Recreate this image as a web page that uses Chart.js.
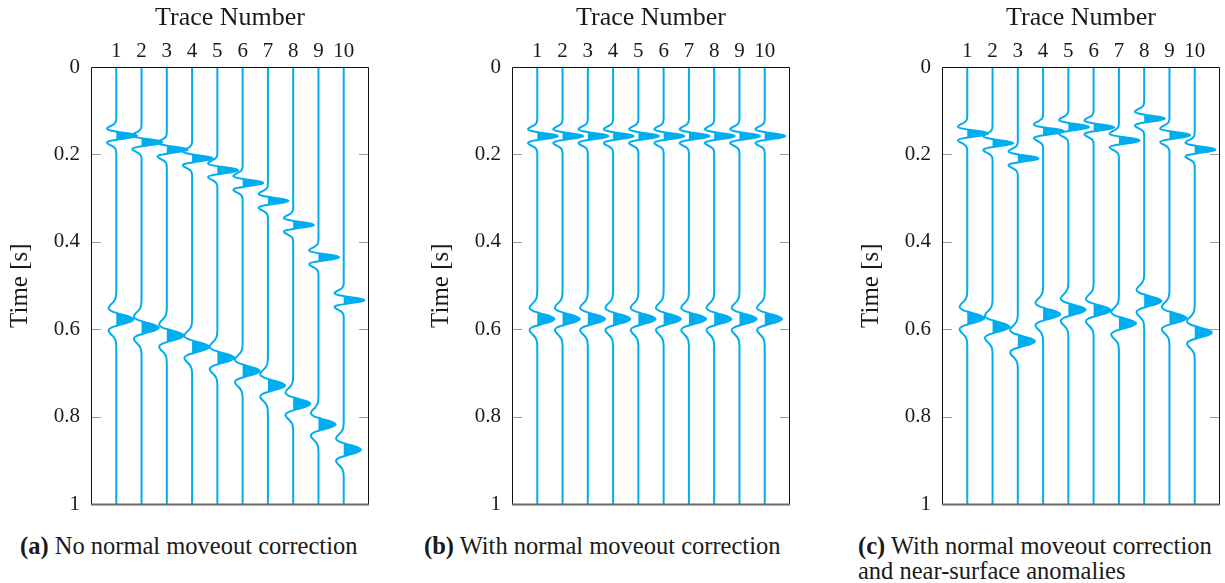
<!DOCTYPE html>
<html>
<head>
<meta charset="utf-8">
<title>Seismic gathers</title>
<script src="https://cdn.jsdelivr.net/npm/chart.js@4.4.1/dist/chart.umd.min.js"></script>
<style>
  body { margin: 0; background: #fff; width: 1225px; height: 583px; position: relative; overflow: hidden; font-family: "Liberation Serif", serif; color: #1a1a1a; }
  .panel { position: absolute; top: 0; }
  .cap { position: absolute; font-size: 24.5px; line-height: 25px; white-space: nowrap; }
</style>
</head>
<body>
<div class="panel" style="left:0px"><canvas id="gatherA" width="373" height="528"></canvas></div>
<div class="panel" style="left:421px"><canvas id="gatherB" width="373" height="528"></canvas></div>
<div class="panel" style="left:851px"><canvas id="gatherC" width="373" height="528"></canvas></div>

<div class="cap" style="left:20px; top:533px"><b>(a)</b> No normal moveout correction</div>
<div class="cap" style="left:424px; top:533px"><b>(b)</b> With normal moveout correction</div>
<div class="cap" style="left:858px; top:533px"><b>(c)</b> With normal moveout correction<br>and near-surface anomalies</div>

<script>
// trace numbers and time ticks
const traceNumbers = [1, 2, 3, 4, 5, 6, 7, 8, 9, 10];
const timeTicks = [0, 0.2, 0.4, 0.6, 0.8, 1];

// arrival times (s) of the two reflections on each trace
const rawFirst  = [0.157, 0.172, 0.189, 0.209, 0.236, 0.265, 0.306, 0.361, 0.435, 0.533];
const rawSecond = [0.577, 0.596, 0.614, 0.640, 0.665, 0.695, 0.728, 0.770, 0.817, 0.875];

const nmoFirst  = [0.158, 0.158, 0.158, 0.158, 0.158, 0.158, 0.158, 0.158, 0.158, 0.158];
const nmoSecond = [0.576, 0.576, 0.576, 0.576, 0.576, 0.576, 0.576, 0.576, 0.576, 0.576];

const staticFirst  = [0.152, 0.174, 0.209, 0.147, 0.137, 0.138, 0.168, 0.118, 0.156, 0.189];
const staticSecond = [0.574, 0.594, 0.627, 0.565, 0.555, 0.556, 0.586, 0.535, 0.574, 0.607];

// wavelet samples (normalised), peak in the middle
const waveletShape = [0, -0.01, -0.03, -0.09, -0.21, -0.37, -0.45, -0.28, 0.19, 0.75, 1,
                      0.75, 0.19, -0.28, -0.45, -0.37, -0.21, -0.09, -0.03, -0.01, 0];
// peak amplitude (in trace spacings) and sample interval (s) for each reflection
const reflectorGain = [0.82, 0.68];
const reflectorStep = [0.0039, 0.0063];

const cyan = 'rgb(0,174,239)';

function tracePoints(k, arrivals) {
  const mid = (waveletShape.length - 1) / 2;
  const pts = [{x: k, y: 0, a: 0}];
  arrivals.forEach((t0, r) => {
    waveletShape.forEach((w, i) => {
      const a = w * reflectorGain[r];
      pts.push({x: k + a, y: t0 + (i - mid) * reflectorStep[r], a: a});
    });
  });
  pts.push({x: k, y: 1, a: 0});
  return pts;
}

function buildDatasets(first, second) {
  const sets = [];
  traceNumbers.forEach((k, j) => {
    const pts = tracePoints(k, [first[j], second[j]]);
    sets.push({
      data: pts.map(p => ({x: p.x, y: p.y})),
      borderColor: cyan,
      borderWidth: 2,
      pointRadius: 0,
      cubicInterpolationMode: 'monotone',
      fill: false
    });
    // positive lobes, filled
    sets.push({
      data: pts.map(p => ({x: k + Math.max(0, p.a), y: p.y})),
      borderWidth: 0,
      borderColor: 'transparent',
      backgroundColor: cyan,
      pointRadius: 0,
      cubicInterpolationMode: 'monotone',
      fill: 'shape'
    });
  });
  return sets;
}

// box, with short inner ticks on both sides
const frame = {
  id: 'frame',
  afterDatasetsDraw(chart) {
    const {ctx, chartArea: {left, right, top, bottom}, scales: {y}} = chart;
    ctx.save();
    ctx.strokeStyle = '#9a9a9a';
    ctx.lineWidth = 1;
    timeTicks.forEach(v => {
      if (v === 0 || v === 1) return;
      const py = Math.round(y.getPixelForValue(v)) + 0.5;
      ctx.beginPath();
      ctx.moveTo(left, py); ctx.lineTo(left + 10, py);
      ctx.moveTo(right, py); ctx.lineTo(right - 10, py);
      ctx.stroke();
    });
    ctx.strokeStyle = '#111';
    ctx.beginPath();
    ctx.moveTo(left + 0.5, bottom);
    ctx.lineTo(left + 0.5, top + 0.5);
    ctx.lineTo(right - 0.5, top + 0.5);
    ctx.lineTo(right - 0.5, bottom);
    ctx.stroke();
    ctx.strokeStyle = '#6b6b6b';
    ctx.lineWidth = 2;
    ctx.beginPath();
    ctx.moveTo(left, bottom); ctx.lineTo(right, bottom);
    ctx.stroke();
    ctx.restore();
  }
};

const serif = '"Liberation Serif", serif';

function drawGather(id, first, second) {
  new Chart(document.getElementById(id), {
    type: 'line',
    data: { datasets: buildDatasets(first, second) },
    options: {
      responsive: false,
      animation: false,
      indexAxis: 'y',
      layout: { padding: { left: 0, right: 4, top: 0, bottom: 5 } },
      plugins: { legend: { display: false }, tooltip: { enabled: false } },
      events: [],
      scales: {
        x: {
          type: 'linear',
          position: 'top',
          min: 0,
          max: 11,
          grid: { display: false, drawTicks: false },
          border: { display: false },
          afterBuildTicks: s => { s.ticks = traceNumbers.map(v => ({value: v})); },
          afterFit: s => { s.height = 67; },
          ticks: { padding: 3, color: '#1a1a1a', font: { family: serif, size: 21 } },
          title: { display: true, text: 'Trace Number', color: '#1a1a1a',
                   padding: { top: 3, bottom: 0 }, font: { family: serif, size: 26 } }
        },
        y: {
          type: 'linear',
          reverse: true,
          min: 0,
          max: 1,
          grid: { display: false, drawTicks: false },
          border: { display: false },
          afterBuildTicks: s => { s.ticks = timeTicks.map(v => ({value: v})); },
          afterFit: s => { s.width = 91; },
          ticks: { padding: 11, color: '#1a1a1a', font: { family: serif, size: 21 },
                   callback: v => String(v) },
          title: { display: true, text: 'Time [s]', color: '#1a1a1a',
                   padding: { top: 5, bottom: 0 }, font: { family: serif, size: 25 } }
        }
      }
    },
    plugins: [frame]
  });
}

drawGather('gatherA', rawFirst, rawSecond);
drawGather('gatherB', nmoFirst, nmoSecond);
drawGather('gatherC', staticFirst, staticSecond);
</script>
</body>
</html>
